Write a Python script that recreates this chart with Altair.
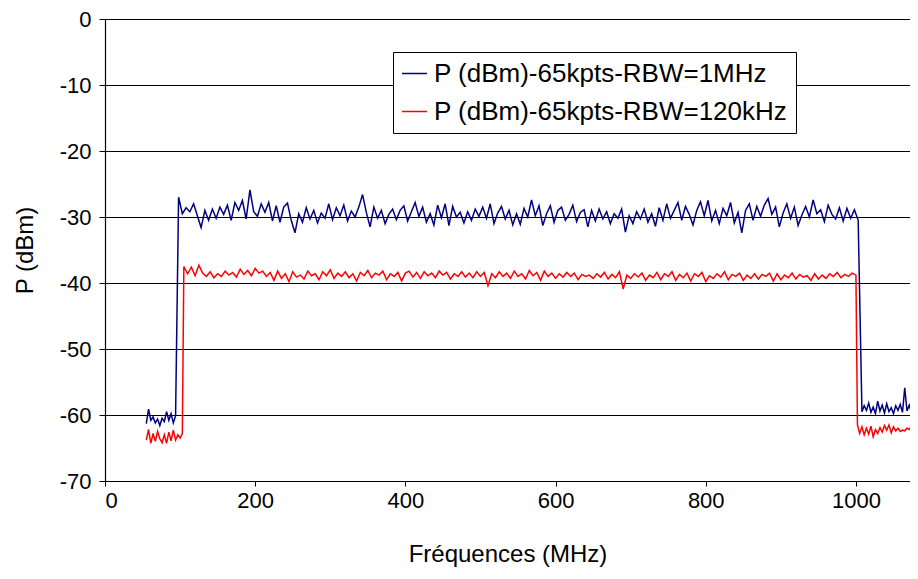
import altair as alt
import pandas as pd

series_names = ["P (dBm)-65kpts-RBW=1MHz", "P (dBm)-65kpts-RBW=120kHz"]
series_colors = ["#000080", "#FF0000"]

# Blue (RBW=1MHz) segments: (start MHz, step MHz, values dBm)
blue_pre_start, blue_pre_step = 55, 3
blue_pre = [-61.3, -59.1, -60.8, -60.3, -61.2, -60.6, -61.6, -60.5, -61.0, -59.5,
            -60.8, -59.8, -61.2, -60.1]
blue_mid_start, blue_mid_step = 98, 5
blue_mid = [-27.0, -29.5, -28.6, -29.2, -28.0, -29.8, -31.6, -29.0, -30.5, -28.8,
            -30.2, -28.5, -29.6, -28.2, -30.5, -27.8, -29.0, -27.5, -30.3, -25.9,
            -29.2, -29.9, -28.0, -29.3, -27.8, -30.6, -28.3, -30.8, -28.5, -27.9,
            -30.5, -32.4, -29.5, -30.8, -28.6, -30.3, -29.0, -30.9, -29.4, -30.2,
            -28.0, -30.4, -28.6, -29.8, -28.2, -30.6, -29.1, -30.0, -28.5, -26.6,
            -29.3, -31.5, -28.5, -30.2, -29.0, -31.0, -29.6, -28.8, -30.4, -29.0,
            -28.3, -30.6, -29.2, -27.8, -29.9, -28.5, -30.8, -29.5, -31.2, -28.2,
            -30.1, -28.0, -31.3, -28.4, -30.0, -29.3, -30.9, -29.2, -30.5, -28.8,
            -29.9, -28.5, -30.2, -28.0, -31.0, -29.4, -28.4, -30.3, -29.0, -31.2,
            -29.5, -31.1, -28.7, -30.0, -27.4, -29.8, -28.3, -31.3, -29.5, -28.3,
            -30.8, -29.0, -28.5, -30.5, -29.6, -28.2, -30.7, -29.3, -28.9, -31.5,
            -29.0, -30.6, -28.8, -30.3, -29.2, -31.0, -29.5, -30.2, -28.8, -32.3,
            -29.8, -31.0, -29.2, -30.3, -28.8, -30.8, -29.5, -31.4, -28.6, -30.5,
            -28.0, -30.2, -29.0, -27.8, -30.5, -28.4, -29.6, -31.2, -29.0, -27.7,
            -29.8, -27.5, -30.6, -29.0, -31.0, -28.7, -29.8, -27.8, -30.9, -29.3,
            -32.4, -29.0, -28.0, -30.5, -28.4, -29.9, -28.2, -27.2, -29.6, -28.5,
            -31.5, -29.4, -28.0, -30.2, -28.5, -31.3, -29.7, -28.4, -30.0, -27.4,
            -29.5, -28.9, -30.7, -28.2, -29.6, -30.3, -28.6, -30.6, -28.7, -30.2,
            -28.9, -30.5]
blue_post_start, blue_post_step = 1008, 3
blue_post = [-59.5, -58.6, -59.3, -58.2, -59.6, -58.8, -59.8, -57.9, -59.4, -58.5,
             -59.7, -58.3, -59.5, -58.9, -59.8, -58.6, -59.3, -58.4, -59.6, -55.9,
             -59.4, -58.5, -59.7, -58.3, -59.2, -58.7, -59.0]

# Red (RBW=120kHz) segments
red_pre_start, red_pre_step = 55, 3
red_pre = [-63.8, -62.2, -64.3, -62.8, -64.0, -62.5, -63.6, -64.2, -63.0, -64.3,
           -62.6, -63.9, -62.3, -63.8, -63.0, -63.5, -62.8]
red_mid_start, red_mid_step = 105, 5
red_mid = [-37.5, -38.6, -37.6, -38.9, -37.3, -38.5, -39.0, -38.3, -39.2, -38.6,
           -39.0, -38.2, -38.8, -38.4, -39.1, -37.9, -38.7, -38.1, -38.9, -37.8,
           -38.5, -38.2, -39.0, -38.4, -39.6, -38.2, -39.3, -38.6, -39.8, -38.3,
           -39.1, -38.8, -39.4, -38.2, -38.9, -38.6, -39.5, -38.3, -38.9, -38.0,
           -39.3, -38.5, -39.0, -38.3, -39.2, -38.6, -39.7, -38.4, -38.9, -38.1,
           -39.2, -38.5, -38.8, -38.2, -39.5, -38.6, -39.0, -38.4, -39.7, -38.5,
           -38.2, -39.1, -38.4, -39.3, -38.3, -38.9, -38.5, -39.2, -38.2, -38.8,
           -38.4, -39.4, -38.6, -39.0, -38.3, -39.1, -38.5, -39.2, -38.3, -39.0,
           -38.4, -40.4, -38.6, -39.2, -38.3, -39.0, -38.5, -39.3, -38.2, -39.0,
           -38.6, -39.4, -38.1, -38.9, -38.4, -39.6, -38.2, -39.0, -38.5, -39.3,
           -38.6, -39.1, -38.4, -39.0, -38.5, -39.5, -38.7, -39.0, -38.8, -39.3,
           -38.6, -39.1, -38.4, -39.4, -38.7, -39.2, -38.3, -40.9, -38.8, -39.3,
           -38.6, -39.1, -38.5, -39.6, -38.8, -39.2, -38.4, -39.5, -38.6, -39.0,
           -38.3, -39.6, -38.7, -39.2, -38.5, -39.7, -38.6, -39.0, -38.4, -39.8,
           -38.9, -39.3, -38.6, -39.1, -38.3, -39.5, -38.7, -39.0, -38.5, -39.6,
           -38.8, -39.3, -38.6, -39.4, -38.7, -39.0, -38.5, -39.7, -38.6, -39.5,
           -38.8, -39.2, -38.5, -39.4, -38.7, -39.1, -38.9, -39.6, -38.6, -39.4,
           -38.8, -39.3, -38.6, -39.0, -38.4, -39.2, -38.7, -39.0, -38.5, -38.8]
red_post_start, red_post_step = 1002, 3
red_post = [-61.5, -62.8, -61.8, -63.0, -62.0, -62.9, -61.7, -63.3, -62.2, -62.8,
            -61.9, -62.6, -61.6, -62.3, -61.5, -62.7, -61.8, -62.4, -62.0, -62.5,
            -62.3, -62.4, -62.0, -62.2, -61.6, -62.1, -61.5, -61.8, -61.4]

x_ticks = [0, 200, 400, 600, 800, 1000]
y_ticks = [-70, -60, -50, -40, -30, -20, -10, 0]

rows = []
order = 0
def add(name, start, step, vals):
    global order
    for i, v in enumerate(vals):
        rows.append({"f": start + i * step, "p": v, "s": name, "o": order})
        order += 1

add(series_names[0], blue_pre_start, blue_pre_step, blue_pre)
add(series_names[0], blue_mid_start, blue_mid_step, blue_mid)
add(series_names[0], blue_post_start, blue_post_step, blue_post)
add(series_names[1], red_pre_start, red_pre_step, red_pre)
add(series_names[1], red_mid_start, red_mid_step, red_mid)
add(series_names[1], red_post_start, red_post_step, red_post)

df = pd.DataFrame(rows)
FONT = "Liberation Sans"

chart = alt.Chart(df).mark_line(strokeWidth=1.5, clip=True).encode(
    x=alt.X("f:Q", title="Fréquences (MHz)",
            scale=alt.Scale(domain=[0, 1072], nice=False, zero=False),
            axis=alt.Axis(values=x_ticks, grid=False, tickSize=5, labelPadding=4,
                          titlePadding=31, labelExpr="'' + datum.value")),
    y=alt.Y("p:Q", title="P (dBm)",
            scale=alt.Scale(domain=[-70, 0], nice=False),
            axis=alt.Axis(values=y_ticks, grid=True, tickSize=6, labelPadding=8,
                          titlePadding=22, labelExpr="'' + datum.value")),
    color=alt.Color("s:N", scale=alt.Scale(domain=series_names, range=series_colors),
                    legend=alt.Legend(title=None, orient="none", legendX=288, legendY=33,
                                      symbolType="stroke", symbolSize=625,
                                      symbolStrokeWidth=1.5, labelFontSize=26,
                                      labelFont=FONT, labelColor="black",
                                      labelLimit=600, labelOffset=6, rowPadding=11,
                                      padding=8, strokeColor="black",
                                      fillColor="white")),
    order="o:Q",
).properties(
    width=805, height=462,
    autosize=alt.AutoSizeParams(type="none"),
    padding={"left": 97, "top": 11, "right": 0, "bottom": 88},
).configure_view(stroke=None).configure_axis(
    labelFont=FONT, titleFont=FONT, labelFontSize=22, titleFontSize=24,
    labelColor="black", titleColor="black", titleFontWeight="normal",
    domainColor="black", tickColor="black", gridColor="#000000", gridWidth=1,
    domainWidth=1.2,
)

chart.save("out.html", embed_options={"renderer": "svg", "actions": False})
